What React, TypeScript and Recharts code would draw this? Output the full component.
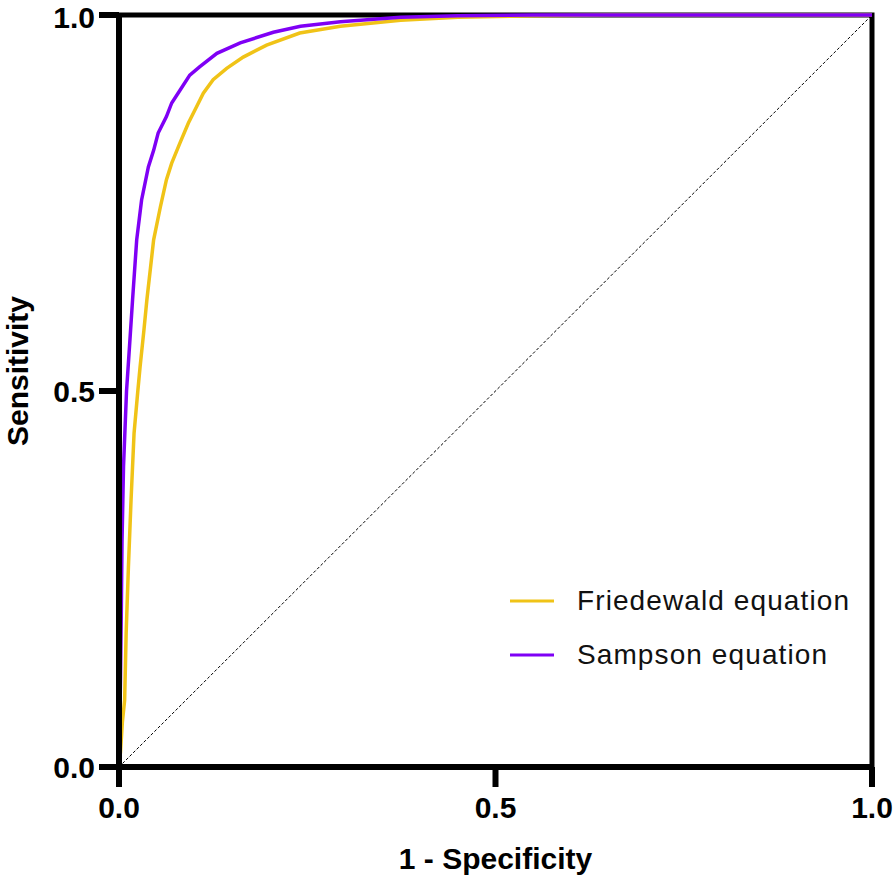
import {
  LineChart,
  Line,
  XAxis,
  YAxis,
  Label,
  Legend,
  ReferenceLine,
  ReferenceArea,
} from 'recharts';

const FONT = '"Liberation Sans", Arial, Helvetica, sans-serif';

const TICKS = [0, 0.5, 1];

// Friedewald equation ROC curve (1 - specificity, sensitivity)
const FRIEDEWALD_FPR = [
  0, 0.002, 0.0045, 0.0075, 0.0095, 0.0125, 0.016, 0.02, 0.025, 0.028, 0.033, 0.037,
  0.046, 0.055, 0.063, 0.07, 0.081, 0.092, 0.103, 0.112, 0.125, 0.143, 0.165, 0.196,
  0.24, 0.294, 0.374, 0.45, 0.55, 0.65, 1,
];
const FRIEDEWALD_TPR = [
  0, 0.02, 0.06, 0.089, 0.178, 0.266, 0.355, 0.444, 0.5, 0.532, 0.58, 0.621,
  0.701, 0.745, 0.781, 0.803, 0.83, 0.856, 0.878, 0.896, 0.914, 0.929, 0.944, 0.96,
  0.976, 0.985, 0.993, 0.997, 0.999, 1, 1,
];

// Sampson equation ROC curve
const SAMPSON_FPR = [
  0, 0.001, 0.002, 0.003, 0.004, 0.006, 0.01, 0.014, 0.018, 0.0235, 0.03, 0.039,
  0.046, 0.052, 0.063, 0.07, 0.081, 0.094, 0.107, 0.13, 0.161, 0.205, 0.241, 0.294,
  0.374, 0.45, 0.55, 1,
];
const SAMPSON_TPR = [
  0, 0.05, 0.12, 0.2, 0.3, 0.4, 0.5, 0.56, 0.621, 0.701, 0.754, 0.798,
  0.82, 0.843, 0.865, 0.883, 0.9, 0.92, 0.931, 0.949, 0.963, 0.977, 0.985, 0.991,
  0.997, 0.999, 1, 1,
];

const toPoints = (fpr: number[], tpr: number[]) =>
  fpr.map((x, i) => ({ fpr: x, tpr: tpr[i] }));

const friedewald = toPoints(FRIEDEWALD_FPR, FRIEDEWALD_TPR);
const sampson = toPoints(SAMPSON_FPR, SAMPSON_TPR);

const tickStyle = { fill: '#000', fontSize: 30, fontWeight: 700, fontFamily: FONT };

function renderLegend(props: any) {
  const items = props.payload || [];
  return (
    <div>
      {items.map((entry: any) => (
        <div
          key={entry.value}
          style={{ display: 'flex', alignItems: 'center', height: 54 }}
        >
          <svg width={44} height={6}>
            <line x1={0} y1={3} x2={44} y2={3} stroke={entry.color} strokeWidth={3} />
          </svg>
          <span
            style={{
              marginLeft: 23,
              fontSize: 28,
              letterSpacing: 1.1,
              fontFamily: FONT,
              color: '#111',
              lineHeight: 1,
            }}
          >
            {entry.value}
          </span>
        </div>
      ))}
    </div>
  );
}

export default function App() {
  return (
    <div style={{ position: 'absolute', left: 0, top: 0 }}>
      <LineChart
        width={894}
        height={879}
        margin={{ top: 15, right: 22, bottom: 0, left: 0 }}
      >
        <XAxis
          dataKey="fpr"
          type="number"
          domain={[0, 1]}
          ticks={TICKS}
          tickFormatter={(v: number) => v.toFixed(1)}
          axisLine={{ stroke: '#000', strokeWidth: 6 }}
          tickLine={{ stroke: '#000', strokeWidth: 6 }}
          tickSize={20}
          tickMargin={10}
          tick={tickStyle}
          height={112}
          allowDuplicatedCategory={false}
        >
          <Label
            value="1 - Specificity"
            position="insideBottom"
            offset={10}
            style={{ fontSize: 30, fontWeight: 700, fontFamily: FONT, fill: '#000' }}
          />
        </XAxis>
        <YAxis
          dataKey="tpr"
          type="number"
          domain={[0, 1]}
          ticks={TICKS}
          tickFormatter={(v: number) => v.toFixed(1)}
          axisLine={{ stroke: '#000', strokeWidth: 6 }}
          tickLine={{ stroke: '#000', strokeWidth: 6 }}
          tickSize={20}
          tickMargin={4}
          tick={tickStyle}
          width={119}
        >
          <Label
            value="Sensitivity"
            angle={-90}
            position="insideLeft"
            offset={17}
            dy={-20}
            style={{
              fontSize: 30,
              fontWeight: 700,
              fontFamily: FONT,
              fill: '#000',
              textAnchor: 'middle',
            }}
          />
        </YAxis>
        <ReferenceArea
          x1={0}
          x2={1}
          y1={0}
          y2={1}
          fill="none"
          stroke="#000"
          strokeWidth={5}
        />
        <ReferenceLine
          segment={[
            { x: 0, y: 0 },
            { x: 1, y: 1 },
          ]}
          stroke="#000"
          strokeWidth={1}
          strokeDasharray="3 2"
        />
        <Legend
          layout="vertical"
          align="center"
          verticalAlign="middle"
          content={renderLegend}
          wrapperStyle={{ left: 510, top: 574, width: 360, height: 110 }}
        />
        <Line
          data={friedewald}
          dataKey="tpr"
          name="Friedewald equation"
          type="linear"
          stroke="#F0C317"
          strokeWidth={3.5}
          dot={false}
          isAnimationActive={false}
        />
        <Line
          data={sampson}
          dataKey="tpr"
          name="Sampson equation"
          type="linear"
          stroke="#7F00F5"
          strokeWidth={3.5}
          dot={false}
          isAnimationActive={false}
        />
      </LineChart>
    </div>
  );
}
